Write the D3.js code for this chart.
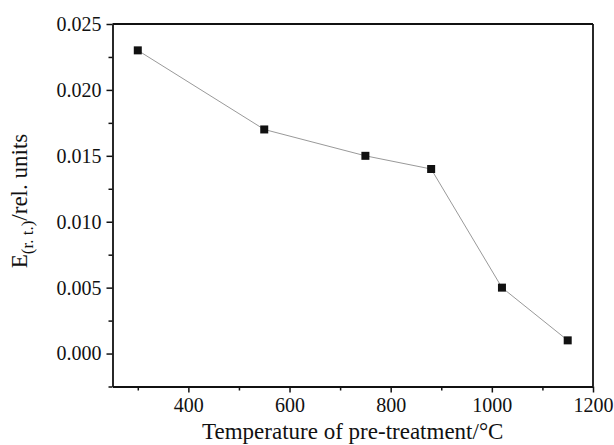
<!DOCTYPE html>
<html>
<head>
<meta charset="utf-8">
<script src="https://cdn.jsdelivr.net/npm/d3@7"></script>
<style>
  html, body { margin: 0; padding: 0; background: #fff; }
  svg { display: block; }
</style>
</head>
<body>
<svg id="chart" width="614" height="445"></svg>
<script>
const temperatures = [300, 550, 750, 880, 1020, 1150];
const eValues = [0.023, 0.017, 0.015, 0.014, 0.005, 0.001];
const xTicks = [400, 600, 800, 1000, 1200];
const xMinorTicks = [300, 500, 700, 900, 1100];
const yTicks = [0.000, 0.005, 0.010, 0.015, 0.020, 0.025];
const yMinorTicks = [-0.0025, 0.0025, 0.0075, 0.0125, 0.0175, 0.0225];

const FONT = "'Liberation Serif', 'DejaVu Serif', serif";
const svg = d3.select("#chart");
const margin = {left: 112.5, right: 21, top: 24, bottom: 58.5};
const W = 614, H = 445;
const x = d3.scaleLinear().domain([250, 1200]).range([margin.left, W - margin.right]);
const y = d3.scaleLinear().domain([-0.0025, 0.025]).range([H - margin.bottom, margin.top]);

const tickFs = 20, labelFs = 23;

// minor ticks
svg.append("g").attr("transform", `translate(0,${y(-0.0025)})`)
  .call(d3.axisBottom(x).tickValues(xMinorTicks).tickSize(4).tickFormat(""))
  .call(g => g.select(".domain").remove())
  .call(g => g.selectAll("line").attr("stroke", "#111").attr("stroke-width", 1.5));
svg.append("g").attr("transform", `translate(${x(250)},0)`)
  .call(d3.axisLeft(y).tickValues(yMinorTicks).tickSize(4).tickFormat(""))
  .call(g => g.select(".domain").remove())
  .call(g => g.selectAll("line").attr("stroke", "#111").attr("stroke-width", 1.5));

// major axes
const xAxis = svg.append("g").attr("transform", `translate(0,${y(-0.0025)})`)
  .call(d3.axisBottom(x).tickValues(xTicks).tickSize(6).tickSizeOuter(0).tickPadding(5).tickFormat(d3.format("d")));
const yAxis = svg.append("g").attr("transform", `translate(${x(250)},0)`)
  .call(d3.axisLeft(y).tickValues(yTicks).tickSize(6).tickSizeOuter(0).tickPadding(5).tickFormat(d3.format(".3f")));
[xAxis, yAxis].forEach(g => {
  g.attr("font-family", null).attr("font-size", null);
  g.select(".domain").attr("stroke", "#111").attr("stroke-width", 1.8);
  g.selectAll("line").attr("stroke", "#111").attr("stroke-width", 1.5);
  g.selectAll("text").style("font-size", tickFs + "px").style("font-family", FONT).style("fill", "#111");
});

// top and right borders
svg.append("line").attr("x1", x(250)).attr("x2", x(1200)).attr("y1", y(0.025)).attr("y2", y(0.025))
  .attr("stroke", "#111").attr("stroke-width", 1.8);
svg.append("line").attr("x1", x(1200)).attr("x2", x(1200)).attr("y1", y(0.025)).attr("y2", y(-0.0025))
  .attr("stroke", "#111").attr("stroke-width", 1.8);

// data line
const data = temperatures.map((t, i) => ({t, e: eValues[i]}));
svg.append("path").datum(data)
  .attr("fill", "none").attr("stroke", "#999").attr("stroke-width", 1)
  .attr("d", d3.line().x(d => x(d.t)).y(d => y(d.e)));
const ms = 8;
svg.selectAll("rect.pt").data(data).enter().append("rect").attr("class", "pt")
  .attr("x", d => x(d.t) - ms / 2).attr("y", d => y(d.e) - ms / 2)
  .attr("width", ms).attr("height", ms).attr("fill", "#111");

// x label
svg.append("text").attr("x", (x(250) + x(1200)) / 2).attr("y", 439)
  .attr("text-anchor", "middle")
  .style("font-family", FONT).style("font-size", labelFs + "px").style("fill", "#111")
  .text("Temperature of pre-treatment/°C");

// y label
const yl = svg.append("text")
  .attr("transform", `translate(27,201) rotate(-90)`)
  .attr("text-anchor", "middle")
  .style("font-family", FONT).style("font-size", labelFs + "px").style("fill", "#111");
yl.append("tspan").text("E");
yl.append("tspan").style("font-size", "17px").attr("dy", 6).text("(r. t.)");
yl.append("tspan").attr("dy", -6).text("/rel. units");
</script>
</body>
</html>
